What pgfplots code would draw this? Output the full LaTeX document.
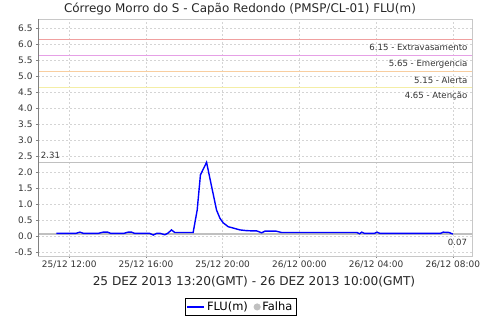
\documentclass[border=0pt]{standalone}
\usepackage{fontspec}
\setmainfont{DejaVu Sans}
\usepackage{pgfplots}
\pgfplotsset{compat=1.18}
\definecolor{tickcol}{HTML}{333333}
\definecolor{gridcol}{HTML}{D4D4D4}
\definecolor{boxcol}{HTML}{C8C8C8}
\definecolor{axcol}{HTML}{808080}
\definecolor{cExt}{RGB}{240,160,160}
\definecolor{cEme}{RGB}{230,160,230}
\definecolor{cAle}{RGB}{248,206,160}
\definecolor{cAte}{RGB}{244,238,166}
\definecolor{mkcol}{HTML}{C0C0C0}
\begin{document}
\begin{tikzpicture}
\useasboundingbox (0,0) rectangle (480bp,320bp);
\begin{axis}[
  at={(38bp,64bp)}, anchor=south west,
  scale only axis, width=434bp, height=237bp,
  xmin=10.37, xmax=33.0, ymin=-0.615, ymax=6.79,
  xtick={12,16,20,24,28,32},
  xticklabels={25/12 12:00,25/12 16:00,25/12 20:00,26/12 00:00,26/12 04:00,26/12 08:00},
  ytick={-0.5,0,0.5,...,6.5},
  yticklabel style={/pgf/number format/.cd,fixed,fixed zerofill,precision=1},
  /pgf/number format/assume math mode=true,
  ticklabel style={font=\fontsize{9}{10}\selectfont, text=tickcol},
  xticklabel style={yshift=1bp},
  tick align=outside, tick pos=left,
  major tick length=2bp,
  tick style={axcol, line width=0.6bp},
  grid=major,
  major grid style={gridcol, dash pattern=on 2bp off 2bp, line width=0.5bp},
  axis line style={boxcol, line width=0.8bp},
  legend columns=2,
  legend style={at={(0.4666,-0.215)}, anchor=center, draw=black, line width=0.6bp,
    font=\fontsize{11.5}{12}\selectfont, inner sep=1.5bp,
    /tikz/every even column/.append style={column sep=4bp}},
  legend cell align=left,
]
% thresholds (thin filled bands)
\addplot[fill=cExt, draw=none, forget plot] coordinates {(10.37,6.132) (33,6.132) (33,6.168) (10.37,6.168)} -- cycle;
\addplot[fill=cEme, draw=none, forget plot] coordinates {(10.37,5.632) (33,5.632) (33,5.668) (10.37,5.668)} -- cycle;
\addplot[fill=cAle, draw=none, forget plot] coordinates {(10.37,5.132) (33,5.132) (33,5.168) (10.37,5.168)} -- cycle;
\addplot[fill=cAte, draw=none, forget plot] coordinates {(10.37,4.632) (33,4.632) (33,4.668) (10.37,4.668)} -- cycle;
\addplot[fill=mkcol, draw=none, forget plot] coordinates {(10.37,2.292) (33,2.292) (33,2.328) (10.37,2.328)} -- cycle;
\addplot[fill=mkcol, draw=none, forget plot] coordinates {(10.37,0.052) (33,0.052) (33,0.088) (10.37,0.088)} -- cycle;
% data
\addplot[blue, line width=1.4bp] coordinates {
(11.33,0.09) (11.67,0.09) (12.0,0.09) (12.33,0.09) (12.56,0.13) (12.75,0.09)
(13.0,0.09) (13.25,0.09) (13.5,0.09) (13.77,0.13) (14.0,0.13) (14.17,0.09)
(14.5,0.09) (14.83,0.09) (15.07,0.13) (15.25,0.13) (15.42,0.09) (15.75,0.09)
(16.0,0.09) (16.2,0.09) (16.38,0.04) (16.55,0.09) (16.75,0.09) (16.98,0.05)
(17.15,0.10) (17.33,0.20) (17.5,0.12) (17.8,0.12) (18.1,0.12) (18.46,0.12)
(18.67,0.82) (18.84,1.92) (19.16,2.31) (19.4,1.62) (19.68,0.82) (19.86,0.56)
(20.03,0.42) (20.29,0.30) (20.6,0.25) (20.9,0.20) (21.2,0.18) (21.5,0.17)
(21.77,0.17) (22.03,0.11) (22.2,0.16) (22.5,0.16) (22.8,0.16) (23.06,0.12)
(23.5,0.12) (24.0,0.12) (24.5,0.12) (25.0,0.12) (25.5,0.12) (26.0,0.12)
(26.5,0.12) (27.0,0.12) (27.14,0.08) (27.25,0.13) (27.4,0.09) (27.9,0.09)
(28.05,0.13) (28.2,0.09) (28.6,0.09) (29.0,0.09) (29.5,0.09) (30.0,0.09)
(30.5,0.09) (31.0,0.09) (31.35,0.09) (31.5,0.13) (31.8,0.12) (32.0,0.07)
};
\addlegendentry{FLU(m)}
\addlegendimage{only marks, mark=*, mark size=3.2bp, mkcol}
\addlegendentry{Falha}
% left and bottom axis lines
\draw[axcol, line width=0.9bp] (rel axis cs:0,1) -- (rel axis cs:0,0) -- (rel axis cs:1,0);
% labels
\begin{scope}[every node/.style={font=\fontsize{8.6}{9}\selectfont, text=tickcol, inner sep=0pt}]
\node[anchor=east] at (axis cs:32.77,5.89) {6.15 - Extravasamento};
\node[anchor=east] at (axis cs:32.77,5.39) {5.65 - Emergencia};
\node[anchor=east] at (axis cs:32.77,4.89) {5.15 - Alerta};
\node[anchor=east] at (axis cs:32.77,4.39) {4.65 - Atenção};
\node[anchor=west] at (axis cs:10.51,2.54) {2.31};
\node[anchor=east] at (axis cs:32.75,-0.20) {0.07};
\end{scope}
\end{axis}
\node[font=\fontsize{12}{13}\selectfont, text=black!85] at (240bp,311bp) {Córrego Morro do S - Capão Redondo (PMSP/CL-01) FLU(m)};
\node[font=\fontsize{12.2}{13}\selectfont, text=black!85] at (254bp,38.5bp) {25 DEZ 2013 13:20(GMT) - 26 DEZ 2013 10:00(GMT)};
\end{tikzpicture}
\end{document}
